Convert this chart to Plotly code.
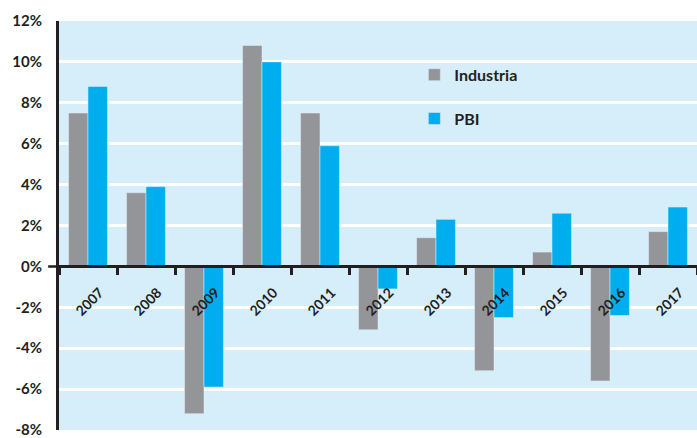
import plotly.graph_objects as go

years = ["2007", "2008", "2009", "2010", "2011", "2012", "2013", "2014", "2015", "2016", "2017"]
industria = [7.5, 3.6, -7.2, 10.8, 7.5, -3.1, 1.4, -5.1, 0.7, -5.6, 1.7]
pbi = [8.8, 3.9, -5.9, 10.0, 5.9, -1.1, 2.3, -2.5, 2.6, -2.4, 2.9]
y_ticks = [-8, -6, -4, -2, 0, 2, 4, 6, 8, 10, 12]
y_labels = [f"{v}%" for v in y_ticks]

GRAY = "#939598"
BLUE = "#00aeef"
DARK = "#231f20"
BG = "#d6edfa"
FONT = "Lato"

fig = go.Figure()
fig.add_trace(go.Bar(x=years, y=industria, name="Industria", marker_color=GRAY,
                     legendgroup="a"))
fig.add_trace(go.Bar(x=years, y=pbi, name="PBI", marker_color=BLUE,
                     legendgroup="b"))

fig.update_layout(
    width=697, height=438,
    margin=dict(l=59, r=0, t=21, b=6),
    paper_bgcolor="white",
    plot_bgcolor=BG,
    barmode="group",
    bargap=0.33,
    bargroupgap=0,
    font=dict(family=FONT, color=DARK, size=15),
    legend=dict(
        x=0.557, y=0.91, xanchor="left", yanchor="top",
        bgcolor="rgba(0,0,0,0)",
        font=dict(family=FONT, size=16, color=DARK, weight="bold"),
        traceorder="grouped", tracegroupgap=20,
        itemwidth=30,
    ),
    xaxis=dict(
        type="category",
        categoryorder="array", categoryarray=years,
        range=[-0.5, len(years) - 0.5],
        anchor="free", position=0.4,
        showline=True, linecolor=DARK, linewidth=2.5,
        ticks="outside", tickson="boundaries", ticklen=7, tickwidth=2.5,
        tickcolor=DARK,
        showticklabels=False,
        showgrid=False, zeroline=False,
    ),
    yaxis=dict(
        range=[-8, 12],
        tickvals=y_ticks, ticktext=y_labels,
        showgrid=True, gridcolor="white", gridwidth=2.5,
        zeroline=False,
        showline=True, linecolor=DARK, linewidth=3,
        ticks="", ticklabelstandoff=11,
        ticklabeloverflow="allow",
        tickfont=dict(family=FONT, size=15, color=DARK, weight="bold"),
    ),
)

# Rotated year labels just below the zero line (x given as category index)
for i, yr in enumerate(years):
    fig.add_annotation(x=i, y=0, xref="x", yref="y", text=yr, showarrow=False,
                       textangle=-45, xanchor="center", yanchor="middle",
                       yshift=-35, xshift=1,
                       font=dict(family=FONT, size=14, color=DARK, weight="bold"))

# Zero line extending slightly left of the y axis
fig.add_shape(type="line", xref="paper", yref="y", x0=-0.017, x1=1, y0=0, y1=0,
              line=dict(color=DARK, width=2.5), layer="above")

fig.write_html("out.html")
